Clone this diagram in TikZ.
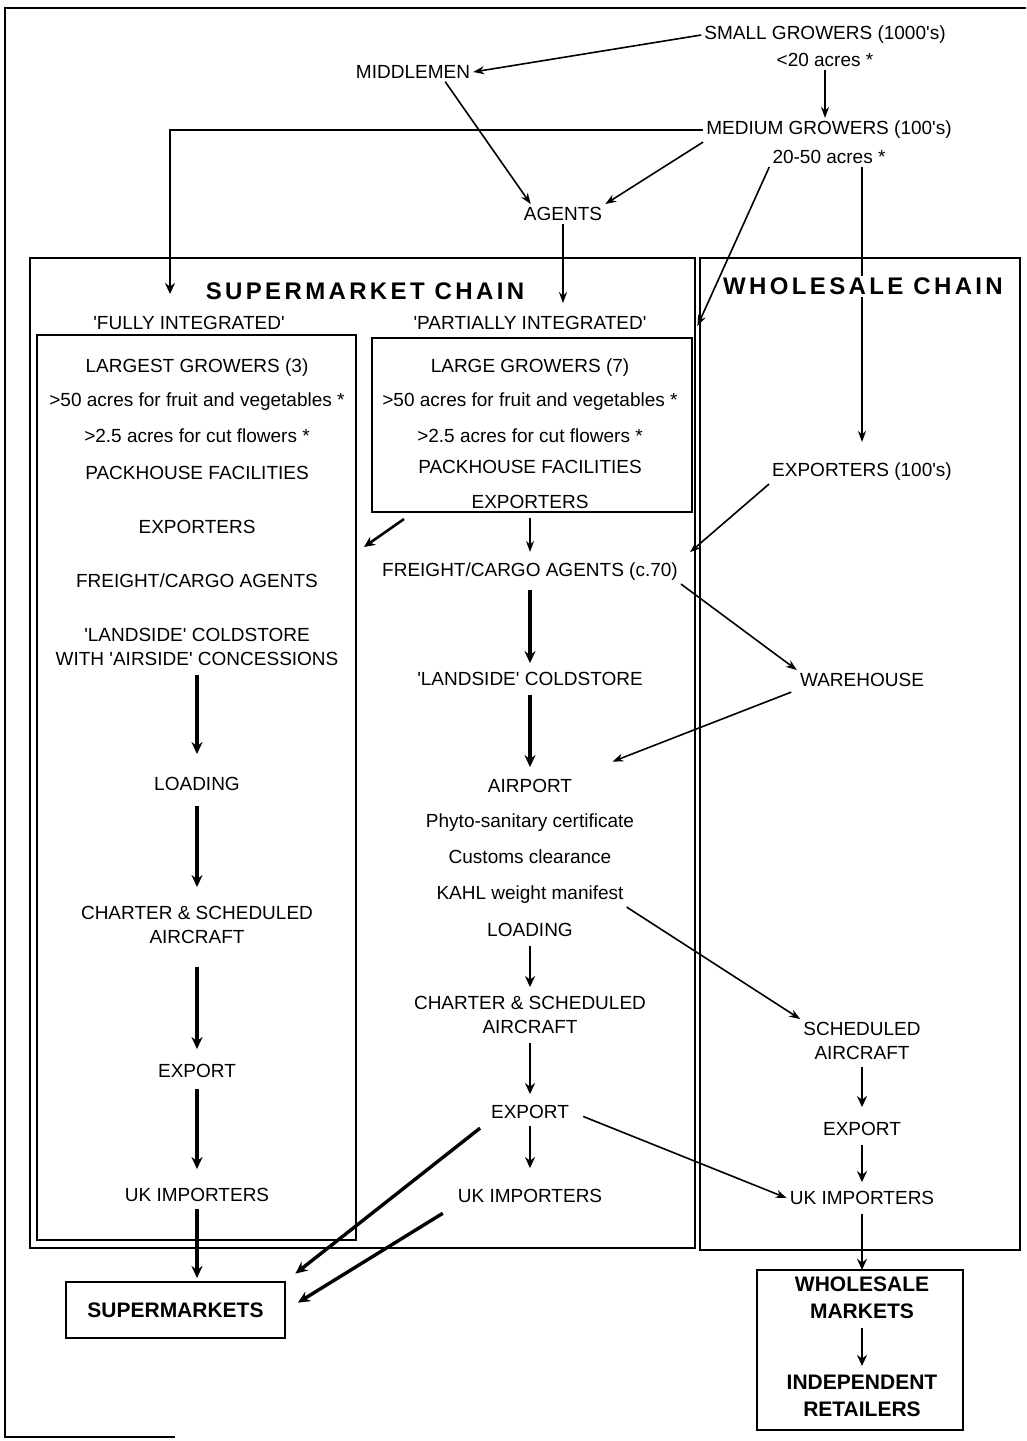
\documentclass[tikz,border=0pt]{standalone}
\usepackage{fontspec}
\usepackage{tikz}
\usetikzlibrary{arrows.meta}
\newfontfamily\chartfont{Liberation Sans}
\newfontfamily\titlefont[LetterSpace=14]{Liberation Sans}
\tikzstyle{stage}=[
        font = \chartfont\fontsize{19}{24}\selectfont,
        align = center,
        inner sep = 3pt
    ]
\tikzstyle{heavy stage}=[
    font = \chartfont\bfseries\fontsize{21}{27}\selectfont,
    align = center,
    inner sep = 3pt
]
\tikzstyle{chain title}=[
    font = \titlefont\bfseries\fontsize{24}{27}\selectfont,
    fill = white,
    inner sep = 2pt
]
\tikzstyle{frame}=[
    draw,
    line width = 2.2pt,
    inner sep = 0pt,
    outer sep = 0pt
]
\tikzstyle{flow}=[line width = 1.6pt, -{Stealth[length=11pt,width=8pt]}]
\tikzstyle{thick flow}=[line width = 2.6pt, -{Stealth[length=11pt,width=10pt]}]
\tikzstyle{big flow}=[line width = 3.4pt, -{Stealth[length=12pt,width=11pt]}]

\begin{document}
\begin{tikzpicture}[x=1pt, y=-1pt, node distance={34pt}]
        \useasboundingbox (0,0) rectangle (1026,1441);
        \draw[line width=1.6pt] (175,1437) -- (5,1437) -- (5,8) -- (1026,8);

        % the two chains and the integrated boxes
        \node[frame, minimum width=665pt, minimum height=990pt] (smchain) at (362.5,753) {};
        \node[frame, line width=2pt, minimum width=320pt, minimum height=992pt] (whchain) at (860,754) {};
        \node[frame, minimum width=319pt, minimum height=905pt] (fbox) at (196.5,787.5) {};
        \node[frame, line width=2.6pt, minimum width=320pt, minimum height=174pt] (lbox) at (532,425) {};

        % growers at the top
        \node[stage] (small) at (825,35) {SMALL GROWERS (1000's)};
        \node[stage] (smallsize) [below of = small, node distance=25pt] {<20 acres *};
        \node[stage] (middlemen) at (413,72) {MIDDLEMEN};
        \node[stage] (medium) at (829,130) {MEDIUM GROWERS (100's)};
        \node[stage] (mediumsize) [below of = medium, node distance=27pt] {20-50 acres *};
        \node[stage] (agents) at (563,214) {AGENTS};

        \node[stage] (fulltag) at (189,323) {'FULLY INTEGRATED'};
        \node[stage] (parttag) at (530,323) {'PARTIALLY INTEGRATED'};

        % fully integrated
        \node[stage] (largest) at (197,368) {LARGEST GROWERS (3)};
        \node[stage] (fullacres) [below of = largest] {>50 acres for fruit and vegetables *};
        \node[stage] (fullflowers) [below of = fullacres] {>2.5 acres for cut flowers *};
        \node[stage] (fullpack) [below of = fullflowers, node distance=37pt] {PACKHOUSE FACILITIES};
        \node[stage] (fullexp) [below of = fullpack, node distance=54pt] {EXPORTERS};
        \node[stage] (fullfreight) [below of = fullexp, node distance=54pt] {FREIGHT/CARGO AGENTS};
        \node[stage] (fullcold) at (197,647) {'LANDSIDE' COLDSTORE\\WITH 'AIRSIDE' CONCESSIONS};
        \node[stage] (fullload) at (197,784) {LOADING};
        \node[stage] (fullcraft) at (197,925) {CHARTER \& SCHEDULED\\AIRCRAFT};
        \node[stage] (fullexport) at (197,1071) {EXPORT};
        \node[stage] (fullimp) at (197,1195) {UK IMPORTERS};
        \node[heavy stage, draw, line width=2pt, minimum width=219pt, minimum height=56pt] (superbox) at (175.5,1310) {SUPERMARKETS};

        % partially integrated
        \node[stage] (large) at (530,368) {LARGE GROWERS (7)};
        \node[stage] (partacres) [below of = large] {>50 acres for fruit and vegetables *};
        \node[stage] (partflowers) [below of = partacres] {>2.5 acres for cut flowers *};
        \node[stage] (partpack) [below of = partflowers, node distance=31pt] {PACKHOUSE FACILITIES};
        \node[stage] (partexp) [below of = partpack, node distance=35pt] {EXPORTERS};
        \node[stage] (partfreight) at (530,572) {FREIGHT/CARGO AGENTS (c.70)};
        \node[stage] (partcold) at (530,679) {'LANDSIDE' COLDSTORE};
        \node[stage] (airport) at (530,786) {AIRPORT};
        \node[stage] (phyto) [below of = airport, node distance=37pt] {Phyto-sanitary certificate};
        \node[stage] (customs) [below of = phyto] {Customs clearance};
        \node[stage] (kahl) [below of = customs, node distance=38pt] {KAHL weight manifest};
        \node[stage] (partload) [below of = kahl, node distance=35pt] {LOADING};
        \node[stage] (partcraft) at (530,1015) {CHARTER \& SCHEDULED\\AIRCRAFT};
        \node[stage] (partexport) at (530,1112) {EXPORT};
        \node[stage] (partimp) at (530,1196) {UK IMPORTERS};

        % wholesale
        \node[stage] (wexp) at (862,472) {EXPORTERS (100's)};
        \node[stage] (warehouse) at (862,680) {WAREHOUSE};
        \node[stage] (sched) at (862,1041) {SCHEDULED\\AIRCRAFT};
        \node[stage] (wexport) at (862,1129) {EXPORT};
        \node[stage] (wimp) at (862,1198) {UK IMPORTERS};
        \node[frame, line width=2pt, minimum width=206pt, minimum height=160pt] (wbox) at (860,1350) {};
        \node[heavy stage] (wholesale) at (862,1298) {WHOLESALE\\MARKETS};
        \node[heavy stage] (retailers) at (862,1396) {INDEPENDENT\\RETAILERS};

        \coordinate (fullin) at (170,294);
        \coordinate (cornerout) at (404,519);
        \coordinate (fullside) at (364,547);

        \draw[flow] (small.west) -- (middlemen.east);
        \draw[flow] (smallsize.south) -- (smallsize.south |- medium.north);
        \draw[flow] ([xshift=-28pt]middlemen.south east) -- ([xshift=10pt]agents.north west);
        \draw[flow] (medium.south west) -- (agents.north east);
        \draw[thick flow] (medium.west) -| (fullin);
        \draw[flow, shorten >=13pt] (mediumsize.south west) -- (lbox.north east);
        \draw[flow, shorten >=18pt] (mediumsize.south -| wexp) -- (wexp);
        \draw[flow, shorten >=10pt] (agents.south) -- (agents.south |- parttag.north);

        \draw[big flow, shorten <=6pt, shorten >=20pt] (fullcold) -- (fullload);
        \draw[big flow, shorten <=12pt, shorten >=16pt] (fullload) -- (fullcraft);
        \draw[big flow, shorten <=20pt, shorten >=12pt] (fullcraft) -- (fullexport);
        \draw[big flow, shorten <=8pt, shorten >=16pt] (fullexport) -- (fullimp);
        \draw[big flow, shorten <=4pt, shorten >=3pt] (fullimp.south) -- (fullimp.south |- superbox.north);

        \draw[thick flow] (cornerout) -- (fullside);
        \draw[flow, shorten <=6pt, shorten >=8pt] (partexp) -- (partfreight);
        \draw[big flow, shorten <=6pt, shorten >=6pt] (partfreight) -- (partcold);
        \draw[big flow, shorten <=6pt, shorten >=9pt] (partcold) -- (airport);
        \draw[thick flow, shorten <=6pt, shorten >=6pt] (partload) -- (partcraft);
        \draw[thick flow, shorten <=6pt, shorten >=8pt] (partcraft) -- (partexport);
        \draw[thick flow, shorten <=4pt, shorten >=18pt] (partexport) -- (partimp);
        \draw[big flow, shorten <=10pt, shorten >=12pt] (partexport.south west) -- (superbox.north east);
        \draw[big flow, shorten <=14pt, shorten >=14pt] (partimp.south west) -- (superbox.east);
        \draw[flow, shorten <=12pt] (partexport.east) -- (wimp.west);

        \draw[flow] (partfreight.south east) -- (warehouse.north west);
        \draw[flow, shorten >=12pt] (wexp.south west) -- (partfreight.north east);
        \draw[flow, shorten <=6pt, shorten >=40pt] (warehouse.south west) -- (airport.north east);
        \draw[flow] (kahl.south east) -- (sched.north west);

        \draw[thick flow, shorten <=4pt, shorten >=12pt] (sched) -- (wexport);
        \draw[thick flow, shorten <=6pt, shorten >=6pt] (wexport) -- (wimp);
        \draw[thick flow, shorten <=6pt, shorten >=4pt] (wimp) -- (wholesale);
        \draw[thick flow, shorten <=6pt, shorten >=6pt] (wholesale) -- (retailers);

        % titles last, over the lines
        \node[chain title] (smtitle) at (365,291) {SUPERMARKET CHAIN};
        \node[chain title] (whtitle) at (863,286) {WHOLESALE CHAIN};
    \end{tikzpicture}
\end{document}
